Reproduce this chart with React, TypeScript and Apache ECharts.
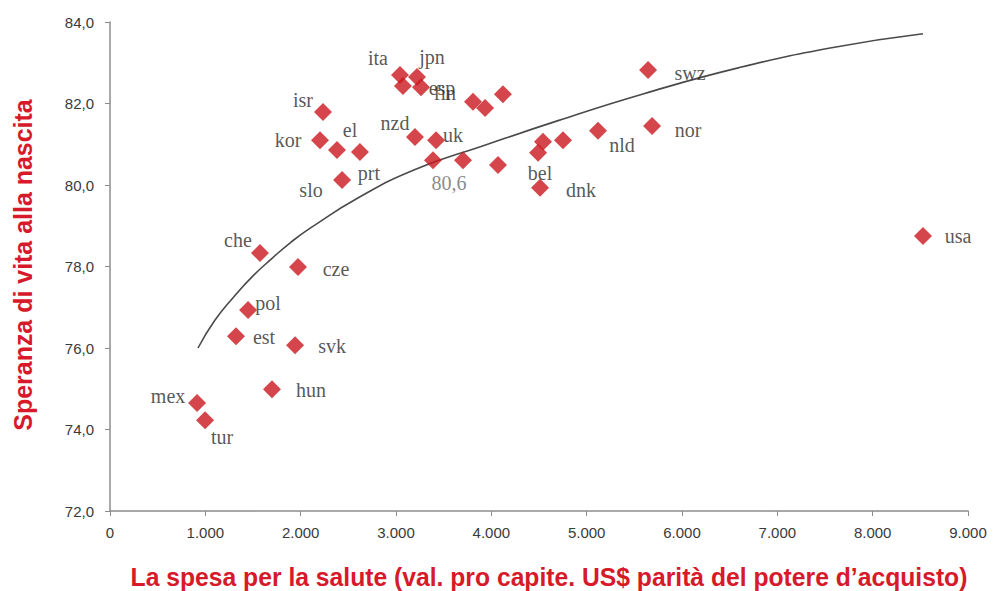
import React, { useEffect, useRef } from "react";
import * as echarts from "echarts";

// Country codes, health spending per capita (US$ PPP) and life expectancy at birth
const countries = [
  "mex", "tur", "est", "pol", "che", "hun", "svk", "cze",
  "kor", "isr", "el", "slo", "prt",
  "ita", "fin", "jpn", "esp", "nzd", "uk", "80,6", "", "",
  "", "", "",
  "", "bel", "", "dnk", "nld", "nor", "swz", "usa",
];
const spending = [
  913, 997, 1322, 1448, 1573, 1699, 1941, 1972,
  2203, 2234, 2381, 2434, 2622,
  3042, 3073, 3220, 3262, 3199, 3420, 3388, 3703, 4070,
  3808, 3934, 4122,
  4542, 4490, 4752, 4511, 5119, 5686, 5644, 8528,
];
const lifeExp = [
  74.65, 74.23, 76.29, 76.93, 78.33, 74.99, 76.07, 77.99,
  81.1, 81.79, 80.86, 80.12, 80.81,
  82.7, 82.43, 82.65, 82.4, 81.18, 81.1, 80.61, 80.61, 80.49,
  82.04, 81.89, 82.23,
  81.06, 80.79, 81.1, 79.93, 81.33, 81.45, 82.82, 78.75,
];

// Trend curve
const trendX = [923, 1100, 1300, 1500, 1700, 1900, 2100, 2600, 3200, 3900, 4700, 5600, 6600, 7600, 8528];
const trendY = [76.0, 76.68, 77.26, 77.77, 78.2, 78.6, 78.94, 79.68, 80.38, 80.95, 81.58, 82.24, 82.88, 83.38, 83.71];

const xTicks = [0, 1000, 2000, 3000, 4000, 5000, 6000, 7000, 8000, 9000];
const yTicks = [72, 74, 76, 78, 80, 82, 84];

const xTitle = "La spesa per la salute (val. pro capite. US$ parità del potere d\u2019acquisto)";
const yTitle = "Speranza di vita alla nascita";

// label centre offsets (px) relative to the marker centre
const labelOffsets: Record<string, [number, number]> = {
  mex: [-29, -7], tur: [17, 17], est: [28, 1], pol: [20, -7], che: [-22, -13],
  hun: [39, 1], svk: [37, 1], cze: [38, 2], kor: [-32, 0], isr: [-20, -12],
  el: [13, -20], slo: [-31, 10], prt: [9, 21], ita: [-22, -17], fin: [42, 7],
  jpn: [15, -20], esp: [21, 1], nzd: [-20, -14], uk: [17, -5], "80,6": [16, 23],
  bel: [2, 20], dnk: [41, 2], nld: [24, 14], nor: [36, 4], swz: [42, 3], usa: [35, 0],
};

const RED = "#c9181e";
const TITLE_RED = "#d7192a";

export default function App() {
  const ref = useRef<HTMLDivElement>(null);
  useEffect(() => {
    if (!ref.current) return;
    const chart = echarts.init(ref.current, null, { renderer: "svg" });
    const scatterData = countries.map((c, i) => {
      const off = labelOffsets[c];
      return {
        value: [spending[i], lifeExp[i]],
        name: c,
        label: c
          ? {
              show: true,
              formatter: c,
              position: "inside",
              offset: off || [0, 0],
              color: c === "80,6" ? "#6b6b6b" : "#2b2b2b",
              fontFamily: "Liberation Serif",
              fontSize: 20,
              align: "center",
              verticalAlign: "middle",
            }
          : { show: false },
      };
    });
    chart.setOption({
      animation: false,
      backgroundColor: "#ffffff",
      grid: { left: 110, right: 28, top: 22, bottom: 80, containLabel: false },
      xAxis: {
        type: "value",
        min: xTicks[0],
        max: xTicks[xTicks.length - 1],
        interval: 1000,
        axisLine: { show: true, lineStyle: { color: "#8c8c8c", width: 1.5 } },
        axisTick: { show: true, length: 5, lineStyle: { color: "#8c8c8c" } },
        splitLine: { show: false },
        axisLabel: {
          margin: 14,
          color: "#3a3a3a",
          fontFamily: "Liberation Sans",
          fontSize: 15,
          formatter: (v: number) => String(v).replace(/\B(?=(\d{3})+(?!\d))/g, "."),
        },
      },
      yAxis: {
        type: "value",
        min: yTicks[0],
        max: yTicks[yTicks.length - 1],
        interval: 2,
        axisLine: { show: true, lineStyle: { color: "#8c8c8c", width: 1.5 } },
        axisTick: { show: true, length: 5, lineStyle: { color: "#8c8c8c" } },
        splitLine: { show: false },
        axisLabel: {
          margin: 16,
          color: "#3a3a3a",
          fontFamily: "Liberation Sans",
          fontSize: 15,
          formatter: (v: number) => v.toFixed(1).replace(".", ","),
        },
      },
      series: [
        {
          type: "line",
          data: trendX.map((x, i) => [x, trendY[i]]),
          smooth: 0.5,
          showSymbol: false,
          symbol: "none",
          lineStyle: { color: "#4a4a4a", width: 1.6 },
          z: 1,
        },
        {
          type: "scatter",
          data: scatterData,
          symbol: "diamond",
          symbolSize: 18,
          itemStyle: { color: RED },
          z: 3,
        },
      ],
      graphic: [
        {
          type: "text",
          x: 549,
          y: 577,
          scaleX: 0.95,
          style: {
            text: xTitle,
            fill: TITLE_RED,
            font: "bold 26px 'Liberation Sans'",
            textAlign: "center",
            textVerticalAlign: "middle",
          },
        },
        {
          type: "text",
          x: 23,
          y: 265,
          rotation: Math.PI / 2,
          scaleX: 0.96,
          style: {
            text: yTitle,
            fill: TITLE_RED,
            font: "bold 26px 'Liberation Sans'",
            textAlign: "center",
            textVerticalAlign: "middle",
          },
        },
      ],
    });
    return () => chart.dispose();
  }, []);
  return (
    <div
      ref={ref}
      style={{ position: "fixed", left: 0, top: 0, width: 996, height: 591 }}
    />
  );
}
